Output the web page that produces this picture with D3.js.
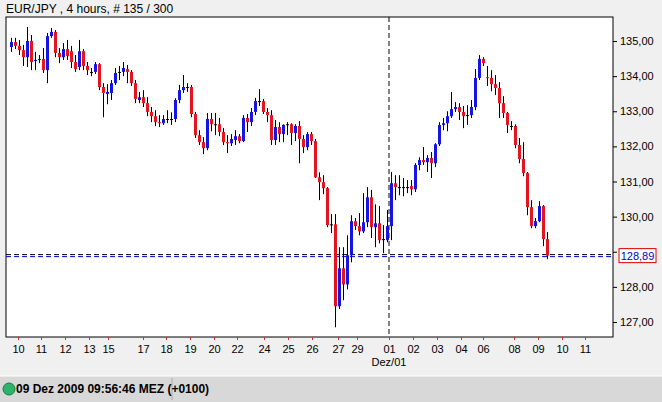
<!DOCTYPE html>
<html><head><meta charset="utf-8">
<script src="https://cdn.jsdelivr.net/npm/d3@7"></script>
<style>body{margin:0;background:#f0f0f0;font-family:Arial,"Liberation Sans",sans-serif}</style>
</head><body><svg id="c" width="662" height="402"></svg>
<script>
const opens=[134.83,134.97,134.86,134.74,134.54,135.00,134.43,134.46,134.49,134.17,135.14,135.26,134.66,134.54,134.77,134.71,134.40,134.26,134.71,134.29,134.12,134.12,134.34,133.69,133.49,133.52,133.80,134.12,134.12,134.20,134.12,133.80,133.32,133.40,133.23,132.98,132.86,132.69,132.66,132.78,132.78,132.78,133.32,133.60,133.69,133.69,132.92,132.32,132.12,131.95,132.78,132.63,132.63,132.41,132.12,132.09,132.18,132.29,132.15,132.81,132.69,132.98,133.29,133.29,132.98,132.89,132.18,132.55,132.35,132.63,132.63,132.38,132.58,132.21,131.98,132.35,132.15,131.12,130.98,130.81,129.78,129.78,127.45,128.53,128.07,128.90,129.87,129.73,129.58,129.84,130.55,129.70,129.81,129.36,129.33,129.73,130.95,130.84,130.84,130.84,130.87,130.78,131.47,131.61,131.55,131.67,131.52,132.06,132.61,132.66,132.86,133.06,133.12,132.98,132.89,132.89,133.12,133.95,134.49,133.97,133.95,133.77,133.66,133.23,132.95,132.58,132.58,132.04,131.64,131.24,130.27,129.73,129.87,130.30,129.36];
const highs=[135.09,135.09,135.03,134.89,135.40,135.17,134.69,134.60,134.80,135.23,135.37,135.31,134.80,134.94,135.03,134.86,134.60,135.03,134.77,134.40,134.23,134.40,134.37,133.80,133.77,133.89,134.23,134.29,134.40,134.32,134.17,133.89,133.55,133.60,133.40,133.12,133.03,132.89,132.89,133.03,132.97,133.37,133.75,134.03,133.80,133.75,132.98,132.46,132.26,132.95,132.95,132.95,132.81,132.52,132.32,132.35,132.46,132.35,132.89,132.92,133.09,133.38,133.63,133.35,133.09,133.03,132.75,132.69,132.63,132.69,132.66,132.63,132.72,132.32,132.41,132.41,132.21,131.26,131.18,130.84,130.07,130.07,129.13,129.13,129.47,130.04,129.96,130.10,130.67,130.84,130.76,130.35,130.30,129.76,130.19,131.27,131.18,131.18,131.10,131.04,131.04,131.52,131.69,131.98,131.75,131.84,132.09,132.69,132.81,133.00,133.55,133.26,133.23,133.15,133.17,133.32,134.20,134.60,134.54,134.29,134.17,134.03,133.83,133.43,132.98,132.72,132.63,132.24,132.12,131.27,130.47,129.96,130.44,130.33,129.56];
const lows=[134.69,134.77,134.60,134.29,134.26,134.17,134.17,134.37,134.09,133.80,135.09,134.54,134.37,134.46,134.46,134.23,134.12,134.17,134.17,134.03,134.00,134.06,133.60,132.83,133.20,133.32,133.75,133.89,134.00,133.80,133.72,133.23,133.23,133.12,132.86,132.69,132.58,132.55,132.61,132.66,132.61,132.69,133.23,133.52,133.55,132.83,132.24,132.04,131.78,131.89,132.43,132.32,132.29,132.04,131.81,132.01,132.04,132.09,132.12,132.41,132.58,132.89,133.15,132.92,132.69,132.04,132.04,132.12,132.12,132.32,132.04,132.15,131.52,131.81,131.89,132.04,131.10,130.47,130.64,129.70,129.53,126.85,127.37,127.62,127.93,128.70,129.62,129.47,129.53,129.70,129.39,129.13,129.24,128.96,129.27,129.33,130.47,130.61,130.58,130.67,130.61,130.70,131.32,131.47,131.27,131.10,131.41,132.01,132.46,132.43,132.81,132.98,132.75,132.52,132.61,132.81,133.03,133.89,134.29,133.72,133.57,133.46,132.81,132.81,132.38,132.46,131.95,131.52,131.15,130.04,129.67,129.67,129.84,129.16,128.79];
const closes=[134.97,134.86,134.74,134.54,135.00,134.40,134.46,134.49,134.17,135.14,135.26,134.66,134.54,134.77,134.57,134.40,134.20,134.71,134.29,134.17,134.12,134.34,133.69,133.52,133.55,133.80,134.09,134.12,134.23,134.12,133.80,133.35,133.40,133.23,132.98,132.86,132.69,132.66,132.78,132.78,132.78,133.32,133.60,133.69,133.69,132.92,132.32,132.12,131.95,132.78,132.63,132.63,132.41,132.12,132.09,132.21,132.29,132.15,132.81,132.69,132.98,133.29,133.29,132.98,132.89,132.18,132.55,132.35,132.61,132.63,132.38,132.58,132.21,131.98,132.35,132.15,131.12,130.98,130.81,129.76,129.78,127.45,128.53,128.07,128.90,129.87,129.73,129.58,129.84,130.55,129.70,129.81,129.33,129.36,129.73,130.95,130.84,130.84,130.84,130.84,130.78,131.47,131.61,131.55,131.67,131.52,132.06,132.61,132.66,132.86,133.06,133.12,132.98,132.86,132.89,133.12,133.95,134.49,134.37,133.95,133.77,133.66,133.23,132.95,132.61,132.58,132.04,131.64,131.24,130.27,129.73,129.87,130.30,129.36,128.89];
const yTicks=[127,128,129,130,131,132,133,134,135];
const dayLabels=["10","11","12","13","15","17","18","19","20","22","24","25","26","27","29","01","02","03","04","06","08","09","10","11"];
const dayPos=[1.75,7.5,13.5,19.5,24.25,33,38.75,44.75,50.75,56.5,63.25,69.25,75.25,81.75,86.5,94.5,100.5,106.5,112.5,118,125.75,131.75,137.75,143.5];
const lastPrice=128.89, markerIndex=94.5;

const svg=d3.select("#c");
const L=6,R=613,T=17,B=337;
const x=d3.scaleLinear().domain([0,150]).range([11,611]);
const y=d3.scaleLinear().domain([127,135]).range([322,41]);
svg.append("rect").attr("x",L).attr("y",T).attr("width",R-L).attr("height",B-T).attr("fill","#fff").attr("stroke","#000");
svg.append("text").attr("x",6).attr("y",13).attr("font-size",12).text("EUR/JPY , 4 hours, # 135 / 300");
// y axis (label hidden where the last-price box sits)
const ya=svg.append("g").attr("transform",`translate(${R},0)`).call(d3.axisRight(y).tickValues(yTicks).tickSize(4)
  .tickFormat(d=>Math.abs(y(d)-y(lastPrice))<12?"":d.toFixed(2).replace(".",",")));
ya.select(".domain").remove();
ya.selectAll("text").attr("font-size",11).attr("font-family","Arial,sans-serif").attr("fill","#000");
// x axis
const xa=svg.append("g").attr("transform",`translate(0,${B})`).call(d3.axisBottom(x).tickValues(dayPos).tickSize(3).tickFormat((d,i)=>dayLabels[i]));
xa.select(".domain").remove();
xa.selectAll("line").attr("stroke","#c33");
xa.selectAll("text").attr("font-size",11).attr("font-family","Arial,sans-serif").attr("fill","#000").attr("dy","0.9em");
svg.append("text").attr("x",x(markerIndex)).attr("y",366).attr("text-anchor","middle").attr("font-size",11).text("Dez/01");
// dashed lines
svg.append("line").attr("x1",x(markerIndex)).attr("x2",x(markerIndex)).attr("y1",T).attr("y2",B).attr("stroke","#000").attr("stroke-dasharray","5,3");
svg.append("line").attr("x1",L).attr("x2",R).attr("y1",y(lastPrice)-1).attr("y2",y(lastPrice)-1).attr("stroke","#000").attr("stroke-dasharray","5,3");
svg.append("line").attr("x1",L).attr("x2",R).attr("y1",y(lastPrice)+1).attr("y2",y(lastPrice)+1).attr("stroke","#00c").attr("stroke-dasharray","5,3");
// candles
const data=opens.map((o,i)=>({i,o,h:highs[i],l:lows[i],c:closes[i]}));
const g=svg.append("g");
g.selectAll("line.w").data(data).join("line").attr("x1",d=>x(d.i)+0.5).attr("x2",d=>x(d.i)+0.5).attr("y1",d=>y(d.h)).attr("y2",d=>y(d.l)).attr("stroke","#000");
g.selectAll("rect").data(data).join("rect").attr("x",d=>x(d.i)-1).attr("width",3)
 .attr("y",d=>y(Math.max(d.o,d.c))).attr("height",d=>Math.max(1,Math.abs(y(d.o)-y(d.c))))
 .attr("fill",d=>d.c>d.o?"#1414e6":d.c<d.o?"#e6141e":"#000");
// price box
svg.append("rect").attr("x",R+6).attr("y",y(lastPrice)-7).attr("width",37).attr("height",14).attr("fill","#fff").attr("stroke","#d00");
svg.append("text").attr("x",R+24.5).attr("y",y(lastPrice)+4).attr("text-anchor","middle").attr("font-size",11).attr("fill","#00c").text(lastPrice.toFixed(2).replace(".",","));
// status bar
svg.append("rect").attr("x",0).attr("y",376).attr("width",662).attr("height",26).attr("fill","#d8d8d8");
svg.append("line").attr("x1",0).attr("x2",662).attr("y1",376).attr("y2",376).attr("stroke","#fff");
svg.append("line").attr("x1",172).attr("x2",172).attr("y1",378).attr("y2",400).attr("stroke","#aaa");
svg.append("circle").attr("cx",9).attr("cy",389).attr("r",6).attr("fill","#2db36a").attr("stroke","#187a44");
svg.append("text").attr("x",16).attr("y",393).attr("font-size",12).attr("font-weight","bold").text("09 Dez 2009 09:56:46  MEZ (+0100)");
</script></body></html>
